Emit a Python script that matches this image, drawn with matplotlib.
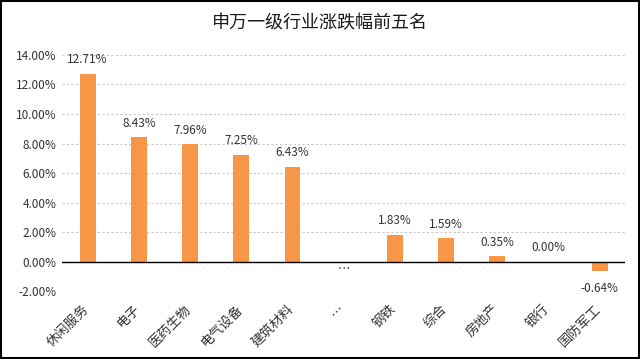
import matplotlib.pyplot as plt
import matplotlib.transforms as mtransforms
import numpy as np
from matplotlib.patches import Rectangle

plt.rcParams['font.family'] = ['Noto Sans CJK SC', 'DejaVu Sans']

# 数据
categories = ['休闲服务', '电子', '医药生物', '电气设备', '建筑材料', '…',
              '钢铁', '综合', '房地产', '银行', '国防军工']
values = [12.71, 8.43, 7.96, 7.25, 6.43, np.nan, 1.83, 1.59, 0.35, 0.00, -0.64]
yticks = [-2, 0, 2, 4, 6, 8, 10, 12, 14]

bar_color = '#F79646'
txt_color = '#333333'

fig = plt.figure(figsize=(6.4, 3.59), dpi=100)
ax = fig.add_axes([0.097, 0.189, 0.88, 0.658])

x = np.arange(len(categories))
vals = np.array(values, dtype=float)
ax.bar(x, np.nan_to_num(vals), width=0.31, color=bar_color, zorder=3)

# 数据标签
for xi, v in zip(x, vals):
    if np.isnan(v):
        ax.text(xi, -0.55, '…', ha='center', va='center', fontsize=9, color=txt_color)
    elif v < 0:
        ax.text(xi, v - 1.15, '%.2f%%' % v, ha='center', va='center',
                fontsize=8.5, color=txt_color)
    else:
        ax.text(xi, v + 0.95, '%.2f%%' % v, ha='center', va='center',
                fontsize=8.5, color=txt_color)

ax.set_ylim(-2, 14)
ax.set_xlim(-0.5, len(categories) - 0.5)
ax.set_yticks(yticks)
ax.set_yticklabels(['%.2f%%' % t for t in yticks], fontsize=8.5, color=txt_color)
ax.set_xticks(x)
ax.set_xticklabels(categories, rotation=45, ha='right', rotation_mode='anchor',
                   fontsize=9.5, color=txt_color)
ax.tick_params(axis='both', length=0, pad=4)
ax.tick_params(axis='x', pad=8)
shift = mtransforms.ScaledTranslation(-4 / 72, 0, fig.dpi_scale_trans)
for lab in ax.get_xticklabels():
    lab.set_transform(lab.get_transform() + shift)

ax.yaxis.grid(True, linestyle=(0, (2, 2)), color='#C8C8C8', linewidth=0.8, zorder=0)
ax.axhline(0, color='black', linewidth=1, zorder=4)
for s in ax.spines.values():
    s.set_visible(False)

fig.text(0.5, 0.935, '申万一级行业涨跌幅前五名', ha='center', va='center',
         fontsize=13, color='#1a1a1a')

fig.patches.append(Rectangle((0.002, 0.003), 0.996, 0.994, transform=fig.transFigure,
                             fill=False, edgecolor='black', linewidth=1.5))

fig.savefig('out.png', dpi=100)
